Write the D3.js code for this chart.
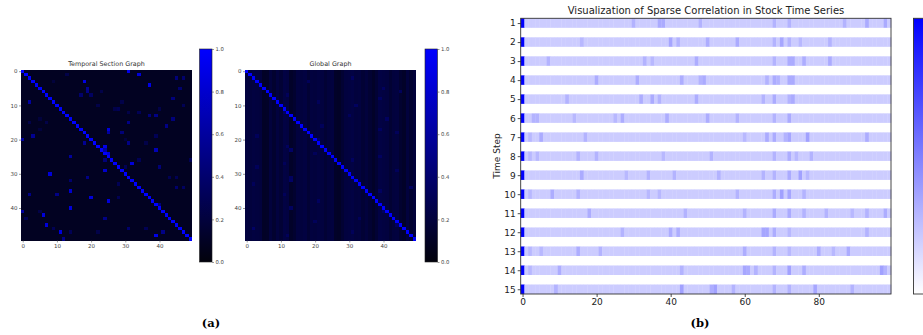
<!DOCTYPE html>
<html><head><meta charset="utf-8">
<script src="https://cdn.jsdelivr.net/npm/d3@7"></script>
<style>html,body{margin:0;padding:0;background:#fff;}svg{display:block;font-family:"DejaVu Sans",sans-serif;}</style>
</head><body>
<svg id="chart" width="923" height="335"></svg>
<script>
// ---------------- DATA ----------------
const heatSize = 50;
const heatTicks = [0, 10, 20, 30, 40];
const colorbarTicks = [0.0, 0.2, 0.4, 0.6, 0.8, 1.0];
const temporalTitle = "Temporal Section Graph";
const globalTitle = "Global Graph";
const diagonalValue = 1.0;
const temporalBackground = 0.09;
// [row, col, value] non-background cells of the temporal section graph
const temporalCells = [
  [0,31,0.9],[1,34,0.85],[1,13,0.25],[2,45,0.45],[2,47,0.4],[3,18,0.9],[3,9,0.2],[4,37,0.9],
  [5,19,0.55],[5,46,0.4],[6,19,0.5],[6,23,0.25],[7,17,0.4],[7,20,0.35],[8,44,0.45],[9,2,0.6],
  [9,29,0.25],[10,47,0.3],[10,22,0.25],[11,27,0.25],[11,28,0.3],[11,40,0.25],[12,31,0.25],[12,34,0.3],
  [13,37,0.45],[13,39,0.5],[14,44,0.45],[14,5,0.2],[15,31,0.5],[15,7,0.25],[15,2,0.25],[16,42,0.5],
  [17,25,0.85],[18,25,0.6],[18,29,0.45],[17,5,0.2],[19,3,0.55],[19,39,0.3],[20,0,0.6],[21,18,0.55],
  [21,31,0.5],[21,36,0.25],[22,24,0.9],[23,24,0.6],[24,25,0.85],[23,39,0.7],[25,14,0.6],[26,24,0.45],
  [26,34,0.3],[26,49,0.3],[27,32,0.85],[28,40,0.45],[28,30,0.3],[29,24,0.8],[30,8,0.85],[31,19,0.5],
  [31,43,0.3],[31,45,0.3],[32,14,0.4],[33,28,0.3],[34,45,0.4],[34,47,0.35],[35,14,0.8],[36,2,0.5],
  [36,10,0.5],[37,20,0.85],[37,28,0.3],[38,25,0.85],[39,40,0.45],[40,14,0.85],[41,0,0.6],[41,5,0.25],
  [42,6,0.85],[43,1,0.3],[43,24,0.5],[45,7,0.85],[46,9,0.3],[46,36,0.3],[46,31,0.4],[47,11,0.85],
  [47,14,0.3],[47,22,0.25],[47,41,0.5],[48,39,0.9],[49,12,0.5],[20,30,0.2]
];
// per-column base level of the global graph (vertical stripes)
const globalColumnBase = [
  0.21,0.20,0.22,0.21,0.20,0.11,0.12,0.20,0.15,0.21,0.17,0.23,0.22,0.12,0.15,0.21,0.20,0.22,0.17,0.21,
  0.20,0.22,0.21,0.17,0.20,0.21,0.12,0.11,0.16,0.21,0.22,0.23,0.20,0.21,0.17,0.20,0.16,0.12,0.17,0.23,
  0.22,0.21,0.16,0.20,0.21,0.15,0.12,0.20,0.15,0.19
];
// [row, col, value] brighter cells of the global graph
const globalCells = [
  [2,31,0.34],[3,18,0.32],[5,40,0.34],[7,12,0.32],[8,39,0.34],[9,21,0.32],[10,32,0.34],[12,11,0.34],
  [13,30,0.32],[14,41,0.34],[16,22,0.32],[17,39,0.34],[19,3,0.32],[20,21,0.34],[22,12,0.34],[23,13,0.37],
  [24,20,0.32],[25,39,0.34],[26,31,0.34],[27,11,0.32],[28,3,0.32],[30,30,0.34],[31,13,0.34],[32,13,0.37],
  [33,2,0.32],[34,48,0.34],[35,39,0.34],[36,11,0.32],[38,21,0.34],[40,13,0.34],[41,40,0.34],[43,33,0.32],
  [44,20,0.32],[46,2,0.37],[47,31,0.32],[48,12,0.32],[45,44,0.34],[29,44,0.32],[18,44,0.32],[6,45,0.32]
];

const timeSteps = [1,2,3,4,5,6,7,8,9,10,11,12,13,14,15];
const tsColumns = 100;
const tsXTicks = [0, 20, 40, 60, 80];
const tsBase = 0.2;
const tsSelf = 1.0;
const tsTitle = "Visualization of Sparse Correlation in Stock Time Series";
const tsYLabel = "Time Step";
// per time step: [column, value] highlighted cells
const tsHighlights = [
  [[30,0.3],[37,0.33],[38,0.33],[48,0.3],[68,0.3],[72,0.3],[87,0.3],[93,0.33],[98,0.33]],
  [[16,0.28],[40,0.35],[42,0.3],[50,0.32],[58,0.33],[68,0.3],[70,0.35],[72,0.3],[75,0.28],[83,0.3]],
  [[7,0.3],[33,0.3],[35,0.28],[47,0.32],[68,0.3],[72,0.33],[73,0.33],[76,0.32],[83,0.33]],
  [[20,0.32],[31,0.32],[43,0.32],[48,0.3],[49,0.33],[66,0.3],[68,0.33],[69,0.3],[72,0.33],[73,0.33]],
  [[12,0.3],[32,0.32],[35,0.33],[37,0.3],[47,0.32],[65,0.3],[68,0.33],[72,0.3],[73,0.33]],
  [[3,0.3],[4,0.3],[14,0.28],[25,0.28],[27,0.32],[39,0.32],[50,0.32],[58,0.3],[68,0.3],[72,0.33]],
  [[2,0.28],[5,0.33],[17,0.3],[60,0.28],[66,0.33],[68,0.33],[71,0.3],[72,0.35],[77,0.37],[93,0.32]],
  [[2,0.28],[4,0.28],[15,0.3],[20,0.3],[38,0.28],[51,0.3],[68,0.3],[72,0.32],[74,0.28],[78,0.3]],
  [[16,0.33],[28,0.28],[34,0.3],[41,0.3],[53,0.3],[65,0.3],[68,0.3],[72,0.33],[75,0.37],[77,0.28]],
  [[2,0.28],[8,0.32],[15,0.3],[34,0.28],[37,0.28],[58,0.3],[68,0.32],[70,0.37],[72,0.35],[76,0.3]],
  [[18,0.32],[44,0.3],[60,0.3],[68,0.33],[72,0.33],[76,0.3],[82,0.3],[89,0.28],[93,0.3],[98,0.32]],
  [[27,0.3],[40,0.32],[42,0.32],[65,0.35],[66,0.35],[68,0.32],[72,0.28],[93,0.3]],
  [[2,0.28],[5,0.28],[15,0.32],[21,0.3],[60,0.32],[68,0.3],[72,0.28],[80,0.32],[84,0.28],[88,0.33]],
  [[2,0.28],[10,0.32],[43,0.3],[60,0.35],[61,0.33],[63,0.3],[68,0.3],[72,0.37],[76,0.32],[97,0.37],[98,0.3]],
  [[9,0.3],[43,0.37],[51,0.32],[52,0.37],[57,0.3],[68,0.3],[72,0.3],[79,0.35],[89,0.3]]
];

// ---------------- DRAW ----------------
const svg = d3.select("#chart");
const darkBlue = d3.scaleLinear().domain([0,1]).range(["#02020c","#0000ff"]).clamp(true);
const whiteBlue = d3.scaleLinear().domain([0,1]).range(["#ffffff","#0000ff"]).clamp(true);
const defs = svg.append("defs");

function gradient(id, scale){
  const g = defs.append("linearGradient").attr("id", id).attr("x1",0).attr("y1",1).attr("x2",0).attr("y2",0);
  d3.range(0,1.0001,0.1).forEach(t=>g.append("stop").attr("offset",t).attr("stop-color",scale(t)));
}
gradient("gradDark", darkBlue);
gradient("gradWhite", whiteBlue);

function buildMatrix(kind){
  const m = [];
  for (let r=0;r<heatSize;r++){ for (let c=0;c<heatSize;c++){
    let v = kind==="t" ? temporalBackground : globalColumnBase[c];
    if (r===c) v = diagonalValue;
    m.push({r,c,v});
  }}
  const cells = kind==="t" ? temporalCells : globalCells;
  cells.forEach(([r,c,v])=>{ if(r!==c) m[r*heatSize+c].v = v; });
  return m;
}

function heatmap(x0, y0, size, title, matrix, cbX){
  const g = svg.append("g");
  const band = d3.scaleBand().domain(d3.range(heatSize)).range([0,size]);
  const pos = d3.scaleLinear().domain([-0.5, heatSize-0.5]).range([0,size]);
  const hg = g.append("g").attr("transform",`translate(${x0},${y0})`);
  hg.append("g").attr("shape-rendering","crispEdges").selectAll("rect").data(matrix).join("rect")
    .attr("x",d=>band(d.c)).attr("y",d=>band(d.r))
    .attr("width",band.bandwidth()+0.4).attr("height",band.bandwidth()+0.4)
    .attr("fill",d=>darkBlue(d.v));
  const ax = d3.axisBottom(pos).tickValues(heatTicks).tickSize(2).tickPadding(1.5);
  const ay = d3.axisLeft(pos).tickValues(heatTicks).tickSize(2).tickPadding(1.5);
  const gx = hg.append("g").attr("transform",`translate(0,${size})`).call(ax);
  const gy = hg.append("g").call(ay);
  [gx,gy].forEach(a=>{a.select(".domain").remove();
    a.selectAll("text").attr("font-size",5.5).attr("fill","#444").attr("font-family","DejaVu Sans");
    a.selectAll("line").attr("stroke","#555").attr("stroke-width",0.6);});
  hg.append("text").attr("x",size/2).attr("y",-4).attr("text-anchor","middle")
    .attr("font-size",6.4).attr("fill","#333").text(title);
  // colorbar
  const cbTop = 49, cbBot = 262, cbW = 12.5;
  const cs = d3.scaleLinear().domain([0,1]).range([cbBot-cbTop,0]);
  const cg = g.append("g").attr("transform",`translate(${cbX},${cbTop})`);
  cg.append("rect").attr("width",cbW).attr("height",cbBot-cbTop).attr("fill","url(#gradDark)")
    .attr("stroke","#222").attr("stroke-width",0.6);
  const ac = d3.axisRight(cs).tickValues(colorbarTicks).tickFormat(d3.format(".1f")).tickSize(2).tickPadding(1.5);
  const ga = cg.append("g").attr("transform",`translate(${cbW},0)`).call(ac);
  ga.select(".domain").remove();
  ga.selectAll("text").attr("font-size",5.3).attr("fill","#444").attr("font-family","DejaVu Sans");
  ga.selectAll("line").attr("stroke","#555").attr("stroke-width",0.6);
}

heatmap(21, 69.5, 171, temporalTitle, buildMatrix("t"), 199.5);
heatmap(245, 69.5, 171, globalTitle, buildMatrix("g"), 425);

// ---- panel (b) ----
const bx = d3.scaleLinear().domain([-0.5, tsColumns-0.5]).range([520.7, 891]);
const by = d3.scaleLinear().domain([0.75, 15.25]).range([18.3, 294]);
const tsData = [];
timeSteps.forEach((t,i)=>{
  const row = d3.range(tsColumns).map(c=>({t, c, v: c===0 ? tsSelf : tsBase}));
  tsHighlights[i].forEach(([c,v])=>{ row[c].v = v; });
  tsData.push(...row);
});
const bg = svg.append("g");
bg.append("g").selectAll("rect").data(tsData).join("rect")
  .attr("x",d=>bx(d.c-0.5)).attr("width",bx(1)-bx(0)+0.3)
  .attr("y",d=>by(d.t-0.25)).attr("height",d=>by(d.t+0.25)-by(d.t-0.25))
  .attr("fill",d=>whiteBlue(d.v));
bg.append("rect").attr("x",520.7).attr("y",18.3).attr("width",891-520.7).attr("height",294-18.3)
  .attr("fill","none").attr("stroke","#333").attr("stroke-width",0.9);
const bxa = bg.append("g").attr("transform","translate(0,294)")
  .call(d3.axisBottom(bx).tickValues(tsXTicks).tickSize(3).tickPadding(2));
const bya = bg.append("g").attr("transform","translate(520.7,0)")
  .call(d3.axisLeft(by).tickValues(timeSteps).tickSize(3).tickPadding(2));
[bxa,bya].forEach(a=>{a.select(".domain").remove();
  a.selectAll("text").attr("font-size",9).attr("fill","#222").attr("font-family","DejaVu Sans");
  a.selectAll("line").attr("stroke","#222").attr("stroke-width",0.8);});
bg.append("text").attr("x",706).attr("y",13.5).attr("text-anchor","middle").attr("font-size",10)
  .attr("fill","#222").text(tsTitle);
bg.append("text").attr("transform","translate(500,156) rotate(-90)").attr("text-anchor","middle")
  .attr("font-size",9).attr("fill","#222").text(tsYLabel);
bg.append("rect").attr("x",913.5).attr("y",18.3).attr("width",20).attr("height",294-18.3)
  .attr("fill","url(#gradWhite)").attr("stroke","#333").attr("stroke-width",0.9);

// panel labels
svg.append("text").attr("x",211).attr("y",327).attr("text-anchor","middle")
  .attr("font-family","'DejaVu Serif',serif").attr("font-weight","bold").attr("font-size",11.5).text("(a)");
svg.append("text").attr("x",700).attr("y",327).attr("text-anchor","middle")
  .attr("font-family","'DejaVu Serif',serif").attr("font-weight","bold").attr("font-size",11.5).text("(b)");
</script>
</body></html>
